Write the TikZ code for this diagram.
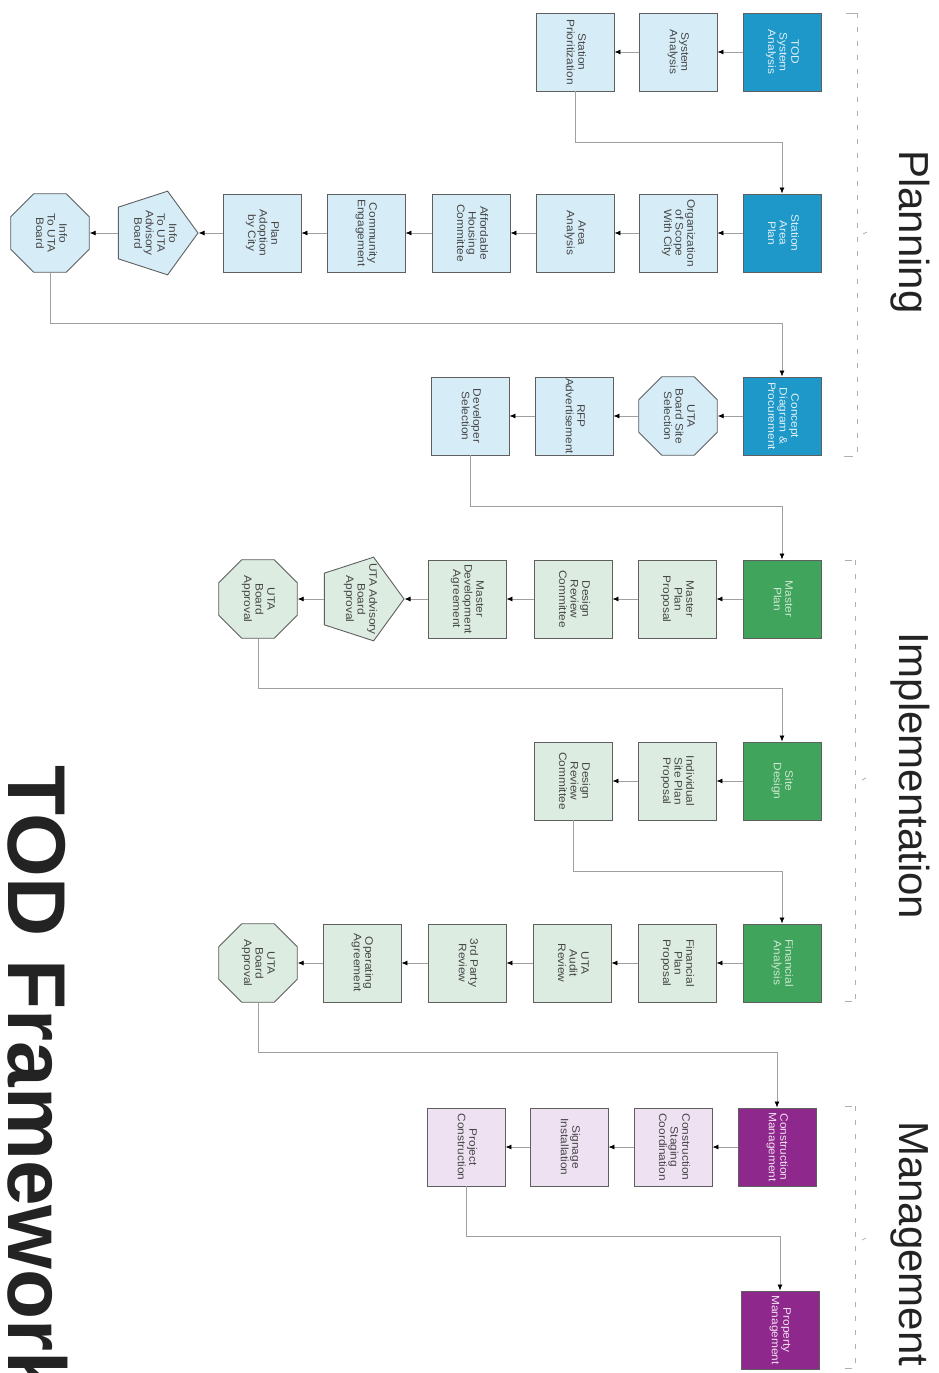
\documentclass[tikz,border=0pt]{standalone}
\usepackage{graphicx}
\usepackage{fontspec}
\setmainfont{Liberation Sans}
\newfontfamily\bxf[FakeStretch=1.1]{Liberation Sans}
\usetikzlibrary{shapes.geometric,arrows.meta}
\definecolor{dblue}{RGB}{30,152,200}
\definecolor{lblue}{RGB}{214,237,248}
\definecolor{dgreen}{RGB}{64,164,92}
\definecolor{lgreen}{RGB}{220,236,225}
\definecolor{dpurple}{RGB}{142,40,140}
\definecolor{lpurple}{RGB}{237,225,242}
\definecolor{bordergray}{RGB}{95,95,95}
\definecolor{boxtext}{RGB}{70,70,70}
\definecolor{conngray}{RGB}{160,160,160}
\definecolor{brgray}{RGB}{175,175,175}
\definecolor{titlegray}{RGB}{35,35,35}
\definecolor{dbtext}{RGB}{225,240,248}
\definecolor{dgtext}{RGB}{205,232,210}
\definecolor{dptext}{RGB}{242,225,242}
\newcommand{\rt}[1]{\rotatebox{-90}{\begin{tabular}{@{}c@{}}#1\end{tabular}}}
\begin{document}
\begin{tikzpicture}[x=1pt,y=-1pt,
  box/.style={draw=bordergray, line width=0.9pt, minimum width=78pt, minimum height=78pt,
    inner sep=0pt, font=\bxf\fontsize{10.8}{11.6}\selectfont, text=boxtext},
  lb/.style={box, fill=lblue},
  lg/.style={box, fill=lgreen},
  lp/.style={box, fill=lpurple},
  db/.style={box, fill=dblue, text=dbtext},
  dg/.style={box, fill=dgreen, text=dgtext},
  dp/.style={box, fill=dpurple, text=dptext},
  ptxt/.style={inner sep=0pt, font=\bxf\fontsize{10.8}{11.6}\selectfont, text=boxtext},
  oct/.style={regular polygon, regular polygon sides=8, minimum size=85pt},
  pent/.style={regular polygon, regular polygon sides=5, shape border rotate=-90, minimum size=88pt},
  flow/.style={draw=conngray, line width=0.8pt, -{Latex[length=6pt,width=5pt,color=black]}},
  sect/.style={rotate=-90, anchor=base west, inner sep=0pt, font=\fontsize{42}{42}\selectfont, text=titlegray},
  brk/.style={draw=brgray, line width=0.7pt, dash pattern=on 5pt off 9pt},
  tick/.style={draw=brgray, line width=0.7pt}
]
\useasboundingbox (0,0) rectangle (939,1373);

% Row 1
\node[db] (tsa) at (782,52) {\rt{TOD\\System\\Analysis}};
\node[lb] (sa) at (678,52) {\rt{System\\Analysis}};
\node[lb] (sp) at (575,52) {\rt{Station\\Prioritization}};
% Row 2
\node[db] (sap) at (782,233) {\rt{Station\\Area\\Plan}};
\node[lb] (osc) at (678,233) {\rt{Organization\\of Scope\\With City}};
\node[lb] (aa) at (575,233) {\rt{Area\\Analysis}};
\node[lb] (ahc) at (471,233) {\rt{Affordable\\Housing\\Committee}};
\node[lb] (ce) at (366,233) {\rt{Community\\Engagement}};
\node[lb] (pac) at (262,233) {\rt{Plan\\Adoption\\by City}};
\node[lb,pent,label={[ptxt]center:\rt{Info\\To UTA\\Advisory\\Board}}] (iuab) at (154,233) {};
\node[lb,oct,label={[ptxt]center:\rt{Info\\To UTA\\Board}}] (iub) at (50,233) {};
% Row 3
\node[db] (cdp) at (782,416) {\rt{Concept\\Diagram \&\\Procurement}};
\node[lb,oct,label={[ptxt]center:\rt{UTA\\Board Site\\Selection}}] (ubss) at (678,416) {};
\node[lb] (rfp) at (574,416) {\rt{RFP\\Advertisement}};
\node[lb] (ds) at (470,416) {\rt{Developer\\Selection}};
% Row 4
\node[dg] (mp) at (782,599) {\rt{Master\\Plan}};
\node[lg] (mpp) at (677,599) {\rt{Master\\Plan\\Proposal}};
\node[lg] (drca) at (573,599) {\rt{Design\\Review\\Committee}};
\node[lg] (mda) at (467,599) {\rt{Master\\Development\\Agreement}};
\node[lg,pent,label={[ptxt]center:\rt{UTA Advisory\\Board\\Approval}}] (uaba) at (360,599) {};
\node[lg,oct,label={[ptxt]center:\rt{UTA\\Board\\Approval}}] (ubaa) at (258,599) {};
% Row 5
\node[dg] (sd) at (782,781) {\rt{Site\\Design}};
\node[lg] (isp) at (677,781) {\rt{Individual\\Site Plan\\Proposal}};
\node[lg] (drcb) at (573,781) {\rt{Design\\Review\\Committee}};
% Row 6
\node[dg] (fa) at (782,963) {\rt{Financial\\Analysis}};
\node[lg] (fpp) at (677,963) {\rt{Financial\\Plan\\Proposal}};
\node[lg] (uar) at (572,963) {\rt{UTA\\Audit\\Review}};
\node[lg] (tpr) at (467,963) {\rt{3rd Party\\Review}};
\node[lg] (oa) at (362,963) {\rt{Operating\\Agreement}};
\node[lg,oct,label={[ptxt]center:\rt{UTA\\Board\\Approval}}] (ubab) at (258,963) {};
% Row 7
\node[dp] (cm) at (777,1147) {\rt{Construction\\Management}};
\node[lp] (csc) at (673,1147) {\rt{Construction\\Staging\\Coordination}};
\node[lp] (si) at (569,1147) {\rt{Signage\\Installation}};
\node[lp] (pc) at (466,1147) {\rt{Project\\Construction}};
% Row 8
\node[dp] (pm) at (780,1330) {\rt{Property\\Management}};

% within rows
\draw[flow] (tsa) -- (sa);
\draw[flow] (sa) -- (sp);
\draw[flow] (sap) -- (osc);
\draw[flow] (osc) -- (aa);
\draw[flow] (aa) -- (ahc);
\draw[flow] (ahc) -- (ce);
\draw[flow] (ce) -- (pac);
\draw[flow] (pac) -- (iuab.corner 1);
\draw[flow] (iuab.west) -- (iub);
\draw[flow] (cdp) -- (ubss);
\draw[flow] (ubss) -- (rfp);
\draw[flow] (rfp) -- (ds);
\draw[flow] (mp) -- (mpp);
\draw[flow] (mpp) -- (drca);
\draw[flow] (drca) -- (mda);
\draw[flow] (mda) -- (uaba.corner 1);
\draw[flow] (uaba.west) -- (ubaa);
\draw[flow] (sd) -- (isp);
\draw[flow] (isp) -- (drcb);
\draw[flow] (fa) -- (fpp);
\draw[flow] (fpp) -- (uar);
\draw[flow] (uar) -- (tpr);
\draw[flow] (tpr) -- (oa);
\draw[flow] (oa) -- (ubab);
\draw[flow] (cm) -- (csc);
\draw[flow] (csc) -- (si);
\draw[flow] (si) -- (pc);

% between rows
\draw[flow] (sp.south) -- ++(0,51) -| (sap.north);
\draw[flow] (iub.south) -- ++(0,51) -| (cdp.north);
\draw[flow] (ds.south) -- ++(0,51) -| (mp.north);
\draw[flow] (ubaa.south) -- ++(0,50) -| (sd.north);
\draw[flow] (drcb.south) -- ++(0,51) -| (fa.north);
\draw[flow] (ubab.south) -- ++(0,50) -| (cm.north);
\draw[flow] (pc.south) -- ++(0,50) -| (pm.north);

% section brackets
\draw[brk] (857,13) -- (857,456);
\draw[tick] (846,13) -- (857,13);
\draw[tick] (844,456) -- (853,456);
\draw[tick] (863,234) -- (867,232);
\draw[brk] (855,560) -- (855,1001);
\draw[tick] (845,560) -- (852,560);
\draw[tick] (845,1001) -- (852,1001);
\draw[tick] (862,780) -- (866,778);
\draw[brk] (855,1106) -- (855,1368);
\draw[tick] (845,1106) -- (852,1106);
\draw[tick] (845,1368) -- (852,1368);
\draw[tick] (862,1240) -- (866,1238);

% labels
\node[sect] (lplan) at (899,150) {Planning};
\node[sect] (limpl) at (899,632) {Implementation};
\node[sect] (lman) at (899,1121) {Management};
\node[rotate=-90, anchor=base west, inner sep=0pt, font=\bfseries\fontsize{82}{82}\selectfont, text=titlegray] (title) at (9,765) {TOD Framework};
\end{tikzpicture}
\end{document}
